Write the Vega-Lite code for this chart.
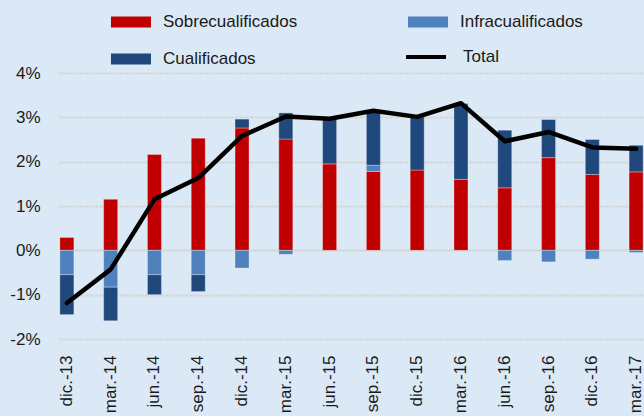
{
  "$schema": "https://vega.github.io/schema/vega-lite/v6.json",
  "autosize": "none",
  "width": 585,
  "height": 266,
  "padding": {"left": 59, "top": 73, "right": 0, "bottom": 77},
  "background": "#dbe8f5",
  "datasets": {
    "barras": [
      {"fecha": "dic.-13", "serie": "Sobrecualificados", "valor": 0.29},
      {"fecha": "dic.-13", "serie": "Infracualificados", "valor": -0.55},
      {"fecha": "dic.-13", "serie": "Cualificados", "valor": -0.90},
      {"fecha": "mar.-14", "serie": "Sobrecualificados", "valor": 1.15},
      {"fecha": "mar.-14", "serie": "Infracualificados", "valor": -0.83},
      {"fecha": "mar.-14", "serie": "Cualificados", "valor": -0.76},
      {"fecha": "jun.-14", "serie": "Sobrecualificados", "valor": 2.16},
      {"fecha": "jun.-14", "serie": "Infracualificados", "valor": -0.55},
      {"fecha": "jun.-14", "serie": "Cualificados", "valor": -0.45},
      {"fecha": "sep.-14", "serie": "Sobrecualificados", "valor": 2.53},
      {"fecha": "sep.-14", "serie": "Infracualificados", "valor": -0.55},
      {"fecha": "sep.-14", "serie": "Cualificados", "valor": -0.38},
      {"fecha": "dic.-14", "serie": "Sobrecualificados", "valor": 2.76},
      {"fecha": "dic.-14", "serie": "Infracualificados", "valor": -0.40},
      {"fecha": "dic.-14", "serie": "Cualificados", "valor": 0.20},
      {"fecha": "mar.-15", "serie": "Sobrecualificados", "valor": 2.51},
      {"fecha": "mar.-15", "serie": "Infracualificados", "valor": -0.09},
      {"fecha": "mar.-15", "serie": "Cualificados", "valor": 0.59},
      {"fecha": "jun.-15", "serie": "Sobrecualificados", "valor": 1.95},
      {"fecha": "jun.-15", "serie": "Cualificados", "valor": 1.02},
      {"fecha": "sep.-15", "serie": "Sobrecualificados", "valor": 1.78},
      {"fecha": "sep.-15", "serie": "Infracualificados", "valor": 0.14},
      {"fecha": "sep.-15", "serie": "Cualificados", "valor": 1.20},
      {"fecha": "dic.-15", "serie": "Sobrecualificados", "valor": 1.81},
      {"fecha": "dic.-15", "serie": "Cualificados", "valor": 1.20},
      {"fecha": "mar.-16", "serie": "Sobrecualificados", "valor": 1.60},
      {"fecha": "mar.-16", "serie": "Cualificados", "valor": 1.71},
      {"fecha": "jun.-16", "serie": "Sobrecualificados", "valor": 1.41},
      {"fecha": "jun.-16", "serie": "Infracualificados", "valor": -0.23},
      {"fecha": "jun.-16", "serie": "Cualificados", "valor": 1.30},
      {"fecha": "sep.-16", "serie": "Sobrecualificados", "valor": 2.09},
      {"fecha": "sep.-16", "serie": "Infracualificados", "valor": -0.26},
      {"fecha": "sep.-16", "serie": "Cualificados", "valor": 0.86},
      {"fecha": "dic.-16", "serie": "Sobrecualificados", "valor": 1.71},
      {"fecha": "dic.-16", "serie": "Infracualificados", "valor": -0.20},
      {"fecha": "dic.-16", "serie": "Cualificados", "valor": 0.79},
      {"fecha": "mar.-17", "serie": "Sobrecualificados", "valor": 1.77},
      {"fecha": "mar.-17", "serie": "Infracualificados", "valor": -0.05},
      {"fecha": "mar.-17", "serie": "Cualificados", "valor": 0.60}
    ],
    "total": [
      {"fecha": "dic.-13", "total": -1.19},
      {"fecha": "mar.-14", "total": -0.43},
      {"fecha": "jun.-14", "total": 1.15},
      {"fecha": "sep.-14", "total": 1.63},
      {"fecha": "dic.-14", "total": 2.58},
      {"fecha": "mar.-15", "total": 3.02},
      {"fecha": "jun.-15", "total": 2.97},
      {"fecha": "sep.-15", "total": 3.15},
      {"fecha": "dic.-15", "total": 3.01},
      {"fecha": "mar.-16", "total": 3.32},
      {"fecha": "jun.-16", "total": 2.46},
      {"fecha": "sep.-16", "total": 2.67},
      {"fecha": "dic.-16", "total": 2.32},
      {"fecha": "mar.-17", "total": 2.29}
    ]
  },
  "layer": [
    {
      "data": {"name": "barras"},
      "mark": {"type": "bar", "stroke": "#ffffff", "strokeOpacity": 0.3, "strokeWidth": 1},
      "encoding": {
        "x": {
          "field": "fecha",
          "type": "nominal",
          "sort": null,
          "scale": {"paddingInner": 0.68, "paddingOuter": 0.02},
          "axis": {
            "title": null,
            "labelAngle": -90,
            "labelAlign": "right",
            "labelBaseline": "middle",
            "labelPadding": 16,
            "labelFontSize": 17,
            "labelFont": "Liberation Sans",
            "labelColor": "#1a1a1a",
            "ticks": false,
            "tickSize": 0,
            "domain": false,
            "grid": false
          }
        },
        "y": {
          "field": "valor",
          "type": "quantitative",
          "stack": "zero",
          "scale": {"domain": [-2, 4], "nice": false, "zero": false},
          "axis": {
            "title": null,
            "values": [-2, -1, 0, 1, 2, 3, 4],
            "labelExpr": "datum.value + '%'",
            "labelFontSize": 17,
            "labelFont": "Liberation Sans",
            "labelColor": "#1a1a1a",
            "labelPadding": 19,
            "ticks": false,
            "tickSize": 0,
            "domain": false,
            "grid": true,
            "gridColor": "#d6d6d6",
            "gridWidth": 2,
            "gridDash": {"condition": {"test": "datum.value === 0", "value": []}, "value": [4, 1]}
          }
        },
        "color": {
          "field": "serie",
          "type": "nominal",
          "scale": {
            "domain": ["Sobrecualificados", "Infracualificados", "Cualificados"],
            "range": ["#c00000", "#4f81bd", "#1f497d"]
          },
          "legend": {
            "title": null,
            "orient": "none",
            "direction": "horizontal",
            "legendX": 52,
            "legendY": -71,
            "columns": 2,
            "columnPadding": 110,
            "rowPadding": 9,
            "padding": 0,
            "symbolSize": 1600,
            "symbolType": "M-1,-0.275H1V0.275H-1Z",
            "symbolStrokeWidth": 0,
            "symbolOpacity": 1,
            "labelOffset": 12,
            "labelFontSize": 17,
            "labelFont": "Liberation Sans",
            "labelColor": "#1a1a1a",
            "labelLimit": 300
          }
        },
        "order": {"field": "serie", "sort": "descending"}
      }
    },
    {
      "data": {"name": "total"},
      "mark": {"type": "line", "strokeWidth": 4.5, "strokeJoin": "round", "strokeCap": "round"},
      "encoding": {
        "x": {"field": "fecha", "type": "nominal", "sort": null},
        "y": {"field": "total", "type": "quantitative"},
        "stroke": {
          "datum": "Total",
          "type": "nominal",
          "scale": {"domain": ["Total"], "range": ["#000000"]},
          "legend": {
            "title": null,
            "orient": "none",
            "legendX": 345,
            "legendY": -38,
            "padding": 0,
            "symbolType": "stroke",
            "symbolSize": 1600,
            "symbolStrokeWidth": 4,
            "symbolStrokeColor": "#000000",
            "labelOffset": 15,
            "labelFontSize": 17,
            "labelFont": "Liberation Sans",
            "labelColor": "#1a1a1a"
          }
        }
      }
    }
  ],
  "config": {
    "view": {"stroke": null},
    "font": "Liberation Sans"
  }
}
